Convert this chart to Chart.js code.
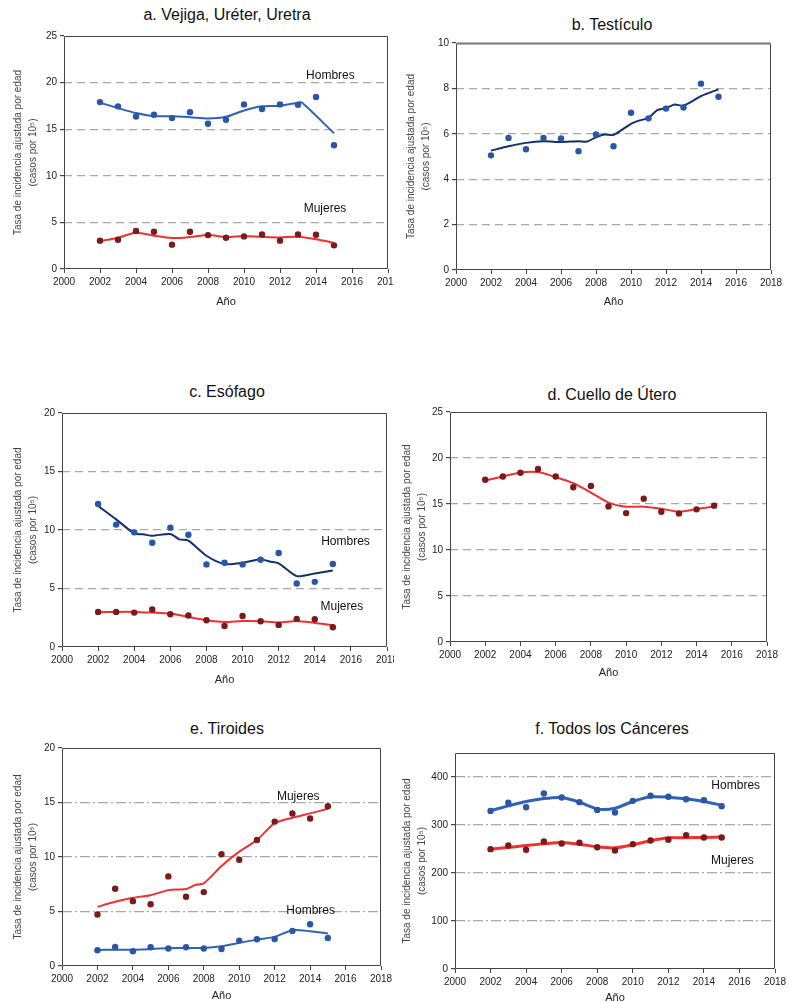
<!DOCTYPE html>
<html>
<head>
<meta charset="utf-8">
<script src="https://cdn.jsdelivr.net/npm/chart.js@4.4.1/dist/chart.umd.min.js"></script>
<style>
  body { margin: 0; background: #fff; width: 788px; height: 1002px; position: relative; overflow: hidden;
         font-family: "Liberation Sans", Arial, sans-serif; }
  canvas { position: absolute; }
  .ttl { position: absolute; font-size: 16px; color: #111; white-space: nowrap; transform: translate(-50%, -50%); }
</style>
</head>
<body>
<script>
// años de los puntos observados
const years = [2002, 2003, 2004, 2005, 2006, 2007, 2008, 2009, 2010, 2011, 2012, 2013, 2014, 2015];

// a. Vejiga
const vejigaHom = [17.91, 17.45, 16.37, 16.55, 16.19, 16.83, 15.58, 16.01, 17.66, 17.16, 17.66, 17.63, 18.45, 13.27];
const vejigaHomFitX = [2002, 2003, 2004, 2005, 2006, 2007, 2008, 2009, 2010, 2011, 2012, 2013, 2013.2, 2015];
const vejigaHomFit = [17.84, 17.27, 16.73, 16.4, 16.4, 16.29, 16.15, 16.33, 17.01, 17.45, 17.52, 17.84, 17.88, 14.57];
const vejigaMuj = [3.04, 3.14, 4.07, 4.0, 2.61, 4.0, 3.64, 3.36, 3.5, 3.71, 3.04, 3.71, 3.68, 2.54];
const vejigaMujFit = [3.0, 3.36, 3.9, 3.57, 3.32, 3.43, 3.64, 3.43, 3.54, 3.43, 3.39, 3.46, 3.2, 2.82];

// b. Testículo
const testHom = [5.05, 5.82, 5.32, 5.82, 5.79, 5.23, 5.97, 5.45, 6.93, 6.68, 7.11, 7.16, 8.21, 7.63];
const testFitX = [2002, 2003, 2004, 2005, 2006, 2007, 2007.5, 2008, 2008.5, 2009, 2010, 2010.5, 2011, 2011.5, 2012, 2012.5, 2013, 2014, 2015];
const testFit = [5.26, 5.45, 5.6, 5.67, 5.64, 5.67, 5.66, 5.85, 5.97, 5.95, 6.44, 6.59, 6.7, 7.04, 7.14, 7.29, 7.24, 7.66, 7.96];

// c. Esófago
const esoHom = [12.23, 10.46, 9.8, 8.91, 10.2, 9.6, 7.06, 7.2, 7.06, 7.46, 8.03, 5.43, 5.57, 7.09];
const esoHomFitX = [2002, 2003, 2004, 2004.5, 2005, 2006, 2006.5, 2007, 2008, 2009, 2010, 2011, 2011.5, 2012, 2013, 2014, 2015];
const esoHomFit = [12.06, 10.91, 9.71, 9.63, 9.51, 9.66, 9.2, 9.09, 7.8, 7.09, 7.2, 7.51, 7.3, 7.15, 6.06, 6.29, 6.54];
const esoMuj = [3.0, 3.0, 2.94, 3.2, 2.8, 2.69, 2.29, 1.8, 2.66, 2.2, 1.89, 2.4, 2.37, 1.69];
const esoMujFit = [2.97, 3.0, 3.0, 2.94, 2.86, 2.57, 2.29, 2.14, 2.23, 2.2, 2.09, 2.23, 2.06, 1.86];

// d. Cuello de Útero
const cuelloMuj = [17.63, 17.99, 18.39, 18.8, 17.99, 16.82, 16.97, 14.74, 14.01, 15.58, 14.16, 13.98, 14.42, 14.82];
const cuelloMujFit = [17.55, 17.99, 18.43, 18.47, 17.92, 17.26, 16.24, 15.15, 14.71, 14.71, 14.49, 14.16, 14.45, 14.74];

// e. Tiroides
const tirMuj = [4.72, 7.09, 5.95, 5.67, 8.22, 6.35, 6.78, 10.25, 9.75, 11.56, 13.25, 13.99, 13.53, 14.66];
const tirMujFitX = [2002, 2003, 2004, 2005, 2006, 2007, 2007.5, 2008, 2009, 2010, 2011, 2012, 2013, 2014, 2015];
const tirMujFit = [5.43, 5.89, 6.26, 6.5, 6.96, 7.06, 7.42, 7.58, 9.17, 10.49, 11.56, 13.1, 13.6, 14.0, 14.42];
const tirHom = [1.44, 1.75, 1.35, 1.72, 1.6, 1.72, 1.6, 1.56, 2.33, 2.45, 2.48, 3.22, 3.83, 2.58];
const tirHomFit = [1.47, 1.5, 1.5, 1.56, 1.63, 1.66, 1.66, 1.81, 2.12, 2.42, 2.67, 3.28, 3.19, 3.0];

// f. Todos los Cánceres
const todosHom = [329.4, 346.2, 337, 365.7, 357.3, 347.6, 331.5, 325.9, 350.3, 360.8, 358.7, 353.8, 351.7, 339.2];
const todosHomFit = [330, 339.9, 349, 355.2, 357.3, 347.6, 333.6, 335, 349, 358.7, 358, 354.5, 349, 341.3];
const todosMuj = [249.7, 257.3, 248.3, 265.7, 261.5, 262.9, 253.8, 246.9, 260.1, 267.8, 269.2, 279, 274.1, 274.1];
const todosMujFit = [249.7, 253.1, 257.3, 260.8, 263.6, 260.1, 254.5, 252.4, 258.7, 267.1, 273.4, 273.4, 274.1, 274.8];

const BLUE_DOT = '#2b55a6', BLUE_LINE = '#2e62b8', NAVY = '#13306e';
const RED_DOT = '#7a1a1a', RED_LINE = '#f03030';
const FONT = '"Liberation Sans", Arial, sans-serif';

const pair = (xs, ys) => ys.map((v, i) => ({ x: xs[i], y: v }));

const panels = [
  { title: 'a. Vejiga, Uréter, Uretra', titleX: 227, titleY: 15, box: [0, 0, 394, 310], plot: [64, 36, 388, 269],
    ymax: 25, ystep: 5, ytPad: 11, dash: [8, 5],
    series: [
      { pts: vejigaHom, fx: vejigaHomFitX, fit: vejigaHomFit, dot: BLUE_DOT, line: BLUE_LINE, w: 2 },
      { pts: vejigaMuj, fx: years, fit: vejigaMujFit, dot: RED_DOT, line: RED_LINE, w: 2 }],
    tags: [{ text: 'Hombres', x: 2014.8, y: 20.7 }, { text: 'Mujeres', x: 2014.5, y: 6.5 }] },
  { title: 'b. Testículo', titleX: 612, titleY: 25, box: [394, 0, 394, 310], plot: [456, 43, 771, 270],
    ymax: 10, ystep: 2, ytPad: 10, dash: [8, 5], topColor: '#777', topWidth: 2,
    series: [{ pts: testHom, fx: testFitX, fit: testFit, dot: BLUE_DOT, line: NAVY, w: 2 }],
    tags: [] },
  { title: 'c. Esófago', titleX: 227, titleY: 392, box: [0, 340, 394, 348], plot: [62, 413, 387, 647],
    ymax: 20, ystep: 5, ytPad: 11, dash: [8, 5],
    series: [
      { pts: esoHom, fx: esoHomFitX, fit: esoHomFit, dot: BLUE_DOT, line: NAVY, w: 2 },
      { pts: esoMuj, fx: years, fit: esoMujFit, dot: RED_DOT, line: RED_LINE, w: 2 }],
    tags: [{ text: 'Hombres', x: 2015.7, y: 9.0 }, { text: 'Mujeres', x: 2015.5, y: 3.44 }] },
  { title: 'd. Cuello de Útero', titleX: 612, titleY: 395, box: [394, 340, 394, 341], plot: [450, 412, 767, 642],
    ymax: 25, ystep: 5, ytPad: 6, dash: [8, 5],
    series: [{ pts: cuelloMuj, fx: years, fit: cuelloMujFit, dot: RED_DOT, line: RED_LINE, w: 2 }],
    tags: [] },
  { title: 'e. Tiroides', titleX: 227, titleY: 729, box: [0, 700, 394, 304], plot: [62, 748, 381, 966],
    ymax: 20, ystep: 5, ytPad: 11, dash: [10, 3, 2, 3],
    series: [
      { pts: tirMuj, fx: tirMujFitX, fit: tirMujFit, dot: RED_DOT, line: RED_LINE, w: 2 },
      { pts: tirHom, fx: years, fit: tirHomFit, dot: BLUE_DOT, line: BLUE_LINE, w: 2 }],
    tags: [{ text: 'Mujeres', x: 2013.33, y: 15.5 }, { text: 'Hombres', x: 2014.03, y: 5.05 }] },
  { title: 'f. Todos los Cánceres', titleX: 612, titleY: 729, box: [394, 700, 394, 306], plot: [455, 753, 775, 969],
    ymax: 450, ystep: 100, ytPad: 6, dash: [10, 3, 2, 3],
    series: [
      { pts: todosHom, fx: years, fit: todosHomFit, dot: BLUE_DOT, line: BLUE_LINE, w: 3 },
      { pts: todosMuj, fx: years, fit: todosMujFit, dot: RED_DOT, line: RED_LINE, w: 3 }],
    tags: [{ text: 'Hombres', x: 2015.79, y: 381 }, { text: 'Mujeres', x: 2015.6, y: 225 }] }
];

function makePanel(p, n) {
  const [cx, cy, cw, ch] = p.box;
  const [L, T, R, B] = p.plot;

  const t = document.createElement('div');
  t.className = 'ttl';
  t.textContent = p.title;
  t.style.left = p.titleX + 'px';
  t.style.top = p.titleY + 'px';
  document.body.appendChild(t);

  const cv = document.createElement('canvas');
  cv.width = cw; cv.height = ch;
  cv.style.left = cx + 'px'; cv.style.top = cy + 'px';
  document.body.appendChild(cv);

  const datasets = [];
  p.series.forEach(s => {
    datasets.push({ data: pair(years, s.pts), showLine: false, pointRadius: 3.2, pointBackgroundColor: s.dot,
                    pointBorderWidth: 0 });
    datasets.push({ data: pair(s.fx, s.fit), showLine: true, borderColor: s.line, borderWidth: s.w,
                    pointRadius: 0, tension: 0.25, fill: false });
  });

  const framePlugin = {
    id: 'frame' + n,
    beforeDatasetsDraw(chart) {
      const a = chart.chartArea, ctx = chart.ctx;
      ctx.save();
      ctx.strokeStyle = '#444'; ctx.lineWidth = 1;
      const l = Math.round(a.left) + 0.5, r = Math.round(a.right) - 0.5;
      const tp = Math.round(a.top) + 0.5, b = Math.round(a.bottom) - 0.5;
      ctx.beginPath();
      ctx.moveTo(l, tp); ctx.lineTo(l, b); ctx.lineTo(r, b); ctx.lineTo(r, tp);
      ctx.stroke();
      ctx.strokeStyle = p.topColor || '#444'; ctx.lineWidth = p.topWidth || 1;
      ctx.beginPath(); ctx.moveTo(l, tp); ctx.lineTo(r, tp); ctx.stroke();
      ctx.restore();
    },
    afterDatasetsDraw(chart) {
      const ctx = chart.ctx, x = chart.scales.x, y = chart.scales.y;
      ctx.save();
      ctx.font = '12px ' + FONT;
      ctx.fillStyle = '#111'; ctx.textAlign = 'center'; ctx.textBaseline = 'middle';
      p.tags.forEach(tg => ctx.fillText(tg.text, x.getPixelForValue(tg.x), y.getPixelForValue(tg.y)));
      ctx.restore();
    }
  };

  new Chart(cv, {
    type: 'scatter',
    data: { datasets },
    plugins: [framePlugin],
    options: {
      responsive: false, animation: false,
      layout: { padding: { top: T - cy, right: cx + cw - R, left: 0, bottom: 0 } },
      plugins: { legend: { display: false }, tooltip: { enabled: false } },
      scales: {
        x: {
          type: 'linear', min: 2000, max: 2018,
          afterFit: s => { s.height = cy + ch - B; s.paddingLeft = 0; s.paddingRight = 0; },
          ticks: { stepSize: 2, padding: 3, color: '#222', font: { size: 10, family: FONT }, maxRotation: 0,
                   callback: v => String(v) },
          grid: { drawOnChartArea: false, drawTicks: true, tickLength: 4, tickColor: '#444' },
          border: { display: false },
          title: { display: true, text: 'Año', color: '#222', font: { size: 11, family: FONT }, padding: { top: 0, bottom: 1.5 } }
        },
        y: {
          min: 0, max: p.ymax,
          afterFit: s => { s.width = L - cx; s.paddingTop = 0; s.paddingBottom = 0; },
          afterBuildTicks: s => { s.ticks = s.ticks.filter(tk => tk.value % p.ystep === 0); },
          ticks: { stepSize: p.ystep, padding: 3, color: '#222', font: { size: 10, family: FONT } },
          grid: {
            drawTicks: true, tickLength: 4, tickColor: '#444', lineWidth: 1.2,
            color: c => (c.tick && (c.tick.value === 0 || c.tick.value >= p.ymax)) ? 'rgba(0,0,0,0)' : '#a8a8a8'
          },
          border: { display: false, dash: p.dash },
          title: { display: true, text: ['Tasa de incidencia ajustada por edad', '(casos por 10⁵)'], color: '#444',
                   font: { size: 10, family: FONT, lineHeight: 1.45 }, padding: { top: p.ytPad, bottom: 0 } }
        }
      }
    }
  });
}

panels.forEach(makePanel);
</script>
</body>
</html>
